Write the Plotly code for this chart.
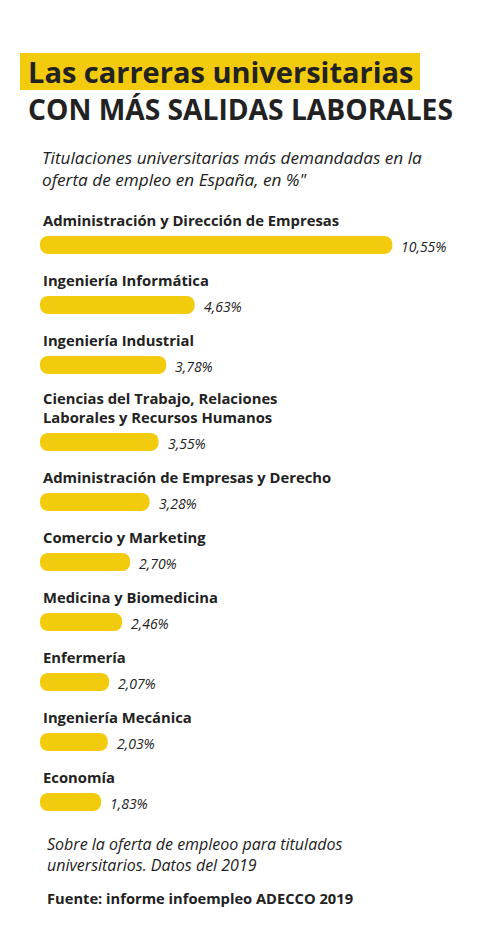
import plotly.graph_objects as go

categories = [
    "Administración y Dirección de Empresas",
    "Ingeniería Informática",
    "Ingeniería Industrial",
    "Ciencias del Trabajo, Relaciones<br>Laborales y Recursos Humanos",
    "Administración de Empresas y Derecho",
    "Comercio y Marketing",
    "Medicina y Biomedicina",
    "Enfermería",
    "Ingeniería Mecánica",
    "Economía",
]
values = [10.55, 4.63, 3.78, 3.55, 3.28, 2.70, 2.46, 2.07, 2.03, 1.83]
value_labels = [f"{v:.2f}".replace(".", ",") + "%" for v in values]

title_1 = "Las carreras universitarias"
title_2 = "CON MÁS SALIDAS LABORALES"
subtitle = "Titulaciones universitarias más demandadas en la<br>oferta de empleo en España, en %\""
note = "Sobre la oferta de empleoo para titulados<br>universitarios. Datos del 2019"
source = "Fuente: informe infoempleo ADECCO 2019"

W, H = 480, 952
YELLOW = "#F2CB0C"
DARK = "#222222"
FONT = "Open Sans"

# layout positions (pixel units on the y axis)
first_center = 245
step = 60
extra_line = 17
ys = []
extra = 0
for i, c in enumerate(categories):
    extra += (c.count("<br>")) * extra_line
    ys.append(first_center + i * step + extra)

px_per_unit = 33.4
left_px = 40
x_range = [-left_px / px_per_unit, (W - left_px) / px_per_unit]

fig = go.Figure()
fig.add_trace(go.Bar(
    x=values, base=[0] * len(values), y=ys, orientation="h", width=18,
    marker=dict(color=YELLOW, line=dict(width=0), cornerradius=8),
    hoverinfo="skip",
))

annotations = []
for c, y, v, lab in zip(categories, ys, values, value_labels):
    annotations.append(dict(
        x=41 / W, xref="paper", y=y - 13, yref="y", xanchor="left", yanchor="bottom",
        text=c, showarrow=False, align="left",
        font=dict(family=FONT, size=14.8, color=DARK, weight="bold"),
    ))
    annotations.append(dict(
        x=v, xref="x", y=y + 1, yref="y", xanchor="left", yanchor="middle",
        xshift=7, text=lab, showarrow=False,
        font=dict(family=FONT, size=14, color=DARK, style="italic"),
    ))

annotations += [
    dict(x=26 / W, xref="paper", y=71, yref="y", xanchor="left", yanchor="middle",
         text=title_1, showarrow=False,
         font=dict(family=FONT, size=29, color=DARK, weight="bold")),
    dict(x=26 / W, xref="paper", y=109, yref="y", xanchor="left", yanchor="middle",
         text=title_2, showarrow=False,
         font=dict(family=FONT, size=28.2, color=DARK, weight="bold")),
    dict(x=40 / W, xref="paper", y=168, yref="y", xanchor="left", yanchor="middle",
         text=subtitle, showarrow=False, align="left",
         font=dict(family=FONT, size=17.2, color=DARK, style="italic")),
    dict(x=45 / W, xref="paper", y=854, yref="y", xanchor="left", yanchor="middle",
         text=note, showarrow=False, align="left",
         font=dict(family=FONT, size=16, color=DARK, style="italic")),
    dict(x=45 / W, xref="paper", y=898, yref="y", xanchor="left", yanchor="middle",
         text=source, showarrow=False, align="left",
         font=dict(family=FONT, size=14.7, color=DARK, weight="bold")),
]

fig.update_layout(
    width=W, height=H,
    margin=dict(l=0, r=0, t=0, b=0),
    paper_bgcolor="white", plot_bgcolor="white",
    showlegend=False,
    xaxis=dict(range=x_range, visible=False, fixedrange=True),
    yaxis=dict(range=[H, 0], visible=False, fixedrange=True),
    annotations=annotations,
    shapes=[dict(type="rect", xref="paper", yref="y", x0=20 / W, x1=420 / W,
                 y0=53, y1=90, fillcolor=YELLOW, line=dict(width=0), layer="below")],
)

fig.write_html("out.html")
